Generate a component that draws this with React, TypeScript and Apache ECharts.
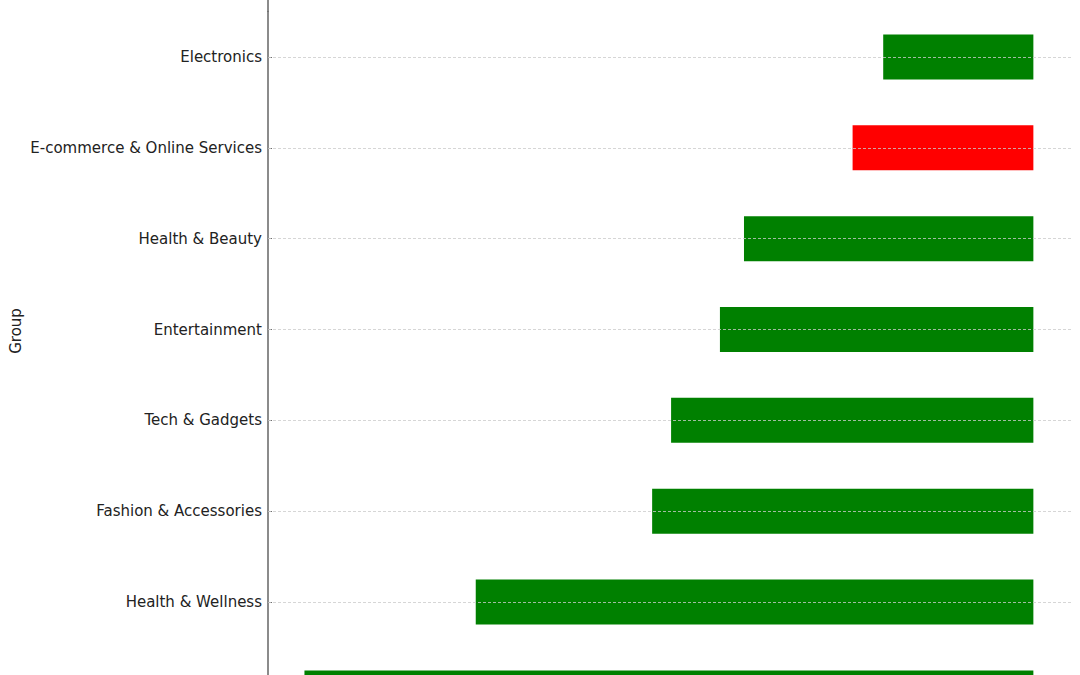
import { useEffect, useRef } from "react";
import * as echarts from "echarts";

// top to bottom; the last group sits below the visible area
const groups = [
  "Electronics",
  "E-commerce & Online Services",
  "Health & Beauty",
  "Entertainment",
  "Tech & Gadgets",
  "Fashion & Accessories",
  "Health & Wellness",
  "Other",
];
const starts = [79.4, 75.2, 60.3, 57.0, 50.3, 47.7, 23.5, 0];
const ends = [100, 100, 100, 100, 100, 100, 100, 100];
const declining = ["E-commerce & Online Services"];

const FONT = "DejaVu Sans";
const AXIS = "#6e6e6e";

export default function App() {
  const elRef = useRef<HTMLDivElement>(null);

  useEffect(() => {
    if (!elRef.current) return;
    const chart = echarts.init(elRef.current, undefined, { renderer: "svg" });
    chart.setOption({
      animation: false,
      backgroundColor: "#fff",
      textStyle: { fontFamily: FONT },
      grid: { left: 268, right: 8, top: 11.6, height: 726.7, containLabel: false },
      xAxis: {
        type: "value",
        min: -5,
        max: 105.3,
        show: false,
        splitLine: { show: false },
      },
      yAxis: {
        type: "category",
        inverse: true,
        data: groups,
        axisLine: { show: true, onZero: false, lineStyle: { color: AXIS, width: 1.6 } },
        axisTick: { show: true, inside: true, length: 4, alignWithLabel: true, lineStyle: { color: AXIS, width: 1 } },
        axisLabel: { color: "#222", fontSize: 15, margin: 6, fontFamily: FONT },
        splitLine: { show: false },
      },
      graphic: [
        // the axes frame runs past the top of the picture
        { type: "line", shape: { x1: 268, y1: 0, x2: 268, y2: 12 }, style: { stroke: AXIS, lineWidth: 1.6 } },
        {
          type: "text",
          x: 16,
          y: 331,
          rotation: Math.PI / 2,
          style: {
            text: "Group",
            fill: "#222",
            font: `15px "${FONT}"`,
            textAlign: "center",
            textVerticalAlign: "middle",
          },
        },
      ],
      series: [
        {
          name: "base",
          type: "bar",
          stack: "total",
          barWidth: 45,
          silent: true,
          itemStyle: { color: "transparent" },
          data: starts,
        },
        {
          name: "change",
          type: "bar",
          stack: "total",
          barWidth: 45,
          data: groups.map((g, i) => ({
            value: ends[i] - starts[i],
            itemStyle: { color: declining.includes(g) ? "#ff0000" : "#008000" },
          })),
          markLine: {
            silent: true,
            symbol: "none",
            label: { show: false },
            lineStyle: { color: "#cccccc", type: [3, 2], width: 0.8 },
            data: groups.map((g) => ({ yAxis: g })),
          },
        },
      ],
    });
    return () => chart.dispose();
  }, []);

  return (
    <div
      style={{ position: "fixed", left: 0, top: 0, width: 1080, height: 675, overflow: "hidden" }}
    >
      <div ref={elRef} style={{ width: 1080, height: 740 }} />
    </div>
  );
}
